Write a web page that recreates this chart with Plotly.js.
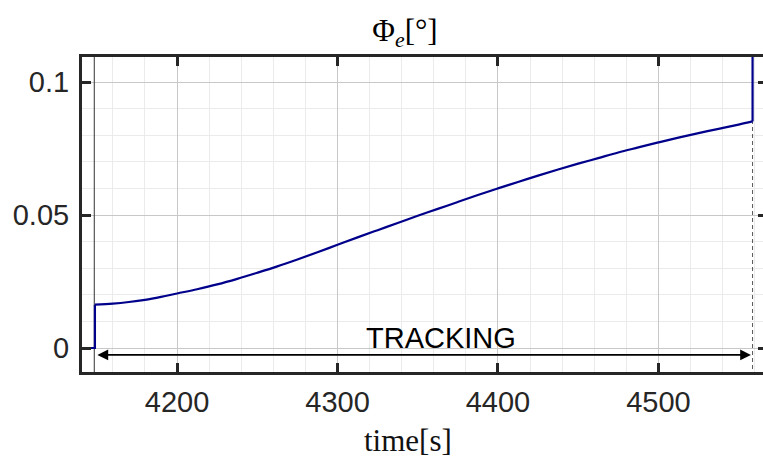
<!DOCTYPE html>
<html>
<head>
<meta charset="utf-8">
<script src="https://cdn.plot.ly/plotly-3.0.1.min.js"></script>
<style>
html,body{margin:0;padding:0;overflow:hidden;background:#fff;width:763px;height:461px;}
#chart{width:777px;height:461px;}
</style>
</head>
<body>
<div id="chart"></div>
<script>
// Data
const timeS = [4138, 4148.8, 4148.8, 4160, 4170, 4180, 4190, 4200, 4212.5, 4225, 4237.5, 4250, 4262.5, 4275, 4287.5, 4300,
               4312.5, 4325, 4337.5, 4350, 4362.5, 4375, 4387.5, 4400, 4412.5, 4425, 4437.5, 4450, 4462.5, 4475,
               4487.5, 4500, 4512.5, 4525, 4537.5, 4550, 4558.7, 4558.7];
const phiE  = [0, 0, 0.0163, 0.0167, 0.0173, 0.0181, 0.0192, 0.0205, 0.0221, 0.0239, 0.0260, 0.0283, 0.0307, 0.0333, 0.0360, 0.0388,
               0.0416, 0.0443, 0.0470, 0.0497, 0.0523, 0.0549, 0.0575, 0.0600, 0.0624, 0.0648, 0.0671, 0.0693, 0.0714, 0.0735,
               0.0754, 0.0773, 0.0791, 0.0808, 0.0824, 0.0840, 0.0852, 0.13];
const trackStart = 4148.4;
const trackEnd = 4558.7;
const arrowY = -0.0026;
const xTickVals = [4200, 4300, 4400, 4500];
const xTickText = ['4200', '4300', '4400', '4500'];
const yTickVals = [0, 0.05, 0.1];
const yTickText = ['0', '0.05', '0.1'];
const phaseLabel = 'TRACKING';

const axisCol = '#262626';
const tickFont = {family: 'Liberation Sans, Arial, sans-serif', size: 29, color: axisCol};
const lineStyle = {color: '#00008B', width: 2.2};
const n = timeS.length;

const traces = [
  {x: [trackStart, trackStart], y: [-1, 1], mode: 'lines', line: {color: '#333333', width: 1}, hoverinfo: 'skip', showlegend: false},
  {x: [trackEnd, trackEnd], y: [-1, 1], mode: 'lines', line: {color: '#555555', width: 1, dash: '4px,3px'}, hoverinfo: 'skip', showlegend: false},
  // before the step and the step itself
  {x: timeS.slice(0, 3), y: phiE.slice(0, 3), mode: 'lines', line: lineStyle, showlegend: false},
  // smooth tracking part
  {x: timeS.slice(2, n - 1), y: phiE.slice(2, n - 1), mode: 'lines', line: Object.assign({shape: 'spline', smoothing: 1}, lineStyle), showlegend: false},
  // final jump
  {x: timeS.slice(n - 2), y: phiE.slice(n - 2), mode: 'lines', line: lineStyle, showlegend: false}
];

const layout = {
  width: 777, height: 461,
  margin: {l: 82, r: 10, t: 57, b: 89},
  paper_bgcolor: '#ffffff', plot_bgcolor: '#ffffff',
  showlegend: false,
  title: {text: 'Φ<sub><i>e</i></sub>[°]', font: {family: 'Liberation Serif, serif', size: 31, color: '#000'},
          x: 405/777, xanchor: 'center', y: 1 - 30/461, yanchor: 'middle'},
  xaxis: {
    range: [4140.75, 4567.7], tickvals: xTickVals, ticktext: xTickText,
    ticks: 'inside', ticklen: 9, tickwidth: 3, tickcolor: axisCol,
    showline: true, linewidth: 3, linecolor: axisCol, mirror: 'allticks',
    showgrid: true, gridcolor: '#c8c8c8', gridwidth: 1,
    minor: {dtick: 20, showgrid: true, gridcolor: '#ebebeb', gridwidth: 1, ticks: ''},
    zeroline: false, tickfont: tickFont, ticklabelstandoff: 2
  },
  yaxis: {
    range: [-0.00902, 0.1094], tickvals: yTickVals, ticktext: yTickText,
    ticks: 'inside', ticklen: 9, tickwidth: 3, tickcolor: axisCol,
    showline: true, linewidth: 3, linecolor: axisCol, mirror: 'allticks',
    showgrid: true, gridcolor: '#c8c8c8', gridwidth: 1,
    minor: {dtick: 0.01, showgrid: true, gridcolor: '#ebebeb', gridwidth: 1, ticks: ''},
    zeroline: false, tickfont: tickFont, ticklabelstandoff: 4
  },
  annotations: [
    {x: trackEnd - 1, y: arrowY, ax: trackStart + 1, ay: arrowY, xref: 'x', yref: 'y', axref: 'x', ayref: 'y',
     showarrow: true, arrowhead: 2, startarrowhead: 2, arrowside: 'end+start', arrowsize: 1.2, arrowwidth: 1.8, arrowcolor: '#000', text: ''},
    {x: 4364.7, y: 0.0039, xref: 'x', yref: 'y', text: phaseLabel, showarrow: false,
     font: {family: 'Liberation Sans, Arial, sans-serif', size: 29, color: '#000'}, xanchor: 'center', yanchor: 'middle'},
    {x: (408-82)/685, y: (372-440)/315, xref: 'paper', yref: 'paper', text: 'time[s]', showarrow: false,
     font: {family: 'Liberation Serif, serif', size: 31, color: '#111'}, xanchor: 'center', yanchor: 'middle'}
  ]
};

Plotly.newPlot('chart', traces, layout, {displayModeBar: false, staticPlot: true});
</script>
</body>
</html>
